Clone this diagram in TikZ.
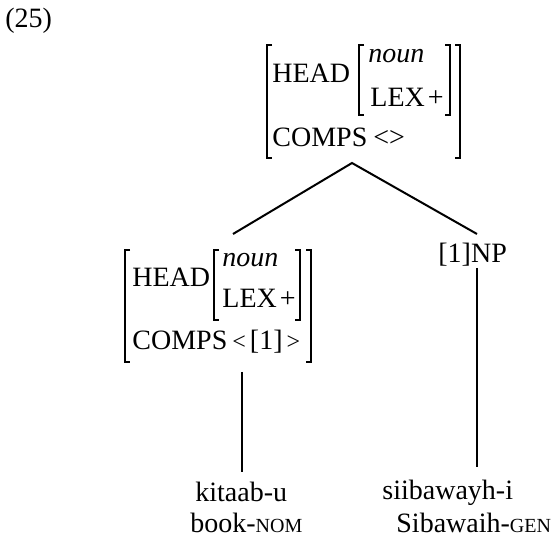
\documentclass[tikz,border=0pt]{standalone}
\usepackage{fontspec}
\setmainfont{Liberation Serif}
\newcommand{\smc}[1]{{\fontsize{10}{12}\selectfont #1}}
\newcommand{\sm}[1]{{\fontsize{12}{12}\selectfont #1}}
\begin{document}
\begin{tikzpicture}[x=0.5pt,y=-0.5pt,
  txt/.style={anchor=base west,inner sep=0pt,font=\fontsize{14}{16}\selectfont},
  brk/.style={line width=0.75pt},
  branch/.style={line width=1pt}]
\useasboundingbox (0,0) rectangle (553,540);
% example number
\node[txt] (num) at (5,28) {(25)};
% top AVM
\node[txt] (th) at (272,83) {HEAD};
\node[txt] (tn) at (368,63) {\itshape noun};
\node[txt] (tl) at (370,107) {LEX\kern1.5pt+};
\node[txt] (tc) at (272,147) {COMPS};
\node[txt] (tv) at (373,147) {<>};
\draw[brk] (272,45) -- (267,45) -- (267,158) -- (272,158);
\draw[brk] (455,45) -- (460,45) -- (460,158) -- (455,158);
\draw[brk] (364,45) -- (359,45) -- (359,115) -- (364,115);
\draw[brk] (445,45) -- (450,45) -- (450,115) -- (445,115);
% left AVM
\node[txt] (lh) at (132,287) {HEAD};
\node[txt] (ln) at (222,267) {\itshape noun};
\node[txt] (ll) at (222,308) {LEX\kern1.5pt+};
\node[txt] (lc) at (132,350) {COMPS};
\node[txt] (lv) at (232,350) {\sm{<}\kern2pt[1]\kern2pt\sm{>}};
\draw[brk] (130,250) -- (125,250) -- (125,362) -- (130,362);
\draw[brk] (306,250) -- (311,250) -- (311,362) -- (306,362);
\draw[brk] (219,250) -- (214,250) -- (214,320) -- (219,320);
\draw[brk] (295,250) -- (300,250) -- (300,320) -- (295,320);
% right daughter
\node[txt] (np) at (438,263) {[1]NP};
% words
\node[txt] (w1) at (195,502) {kitaab-u};
\node[txt] (g1) at (190,533) {book-\smc{NOM}};
\node[txt] (w2) at (382,500) {siibawayh-i};
\node[txt] (g2) at (396,533) {Sibawaih-\smc{GEN}};
% connector end points
\coordinate (apex) at (352,163);
\coordinate (lend) at (233,234);
\coordinate (rend) at (477,234);
\coordinate (ltop) at (242,372);
\coordinate (lbot) at (242,472);
\coordinate (rtop) at (477,268);
\coordinate (rbot) at (477,467);
\draw[branch] (lend) -- (apex) -- (rend);
\draw[branch] (ltop) -- (lbot);
\draw[branch] (rtop) -- (rbot);
\end{tikzpicture}
\end{document}
